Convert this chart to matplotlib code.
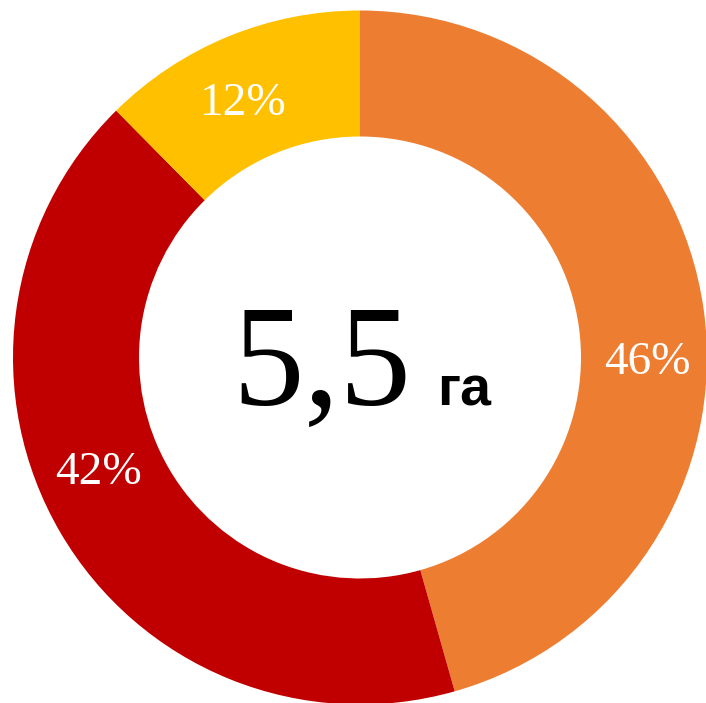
import matplotlib.pyplot as plt

# Shares of the 5.5 ha area (wedge sizes, labels as printed)
labels = ['46%', '42%', '12%']
shares = [45.6, 42.0, 12.4]
colors = ['#ED7D31', '#C00000', '#FFC000']
total_text = '5,5'
unit_text = 'га'

fig = plt.figure(figsize=(7.06, 7.03), dpi=100)
ax = fig.add_axes([0, 0, 1, 1])

H = 703
cx, cy, r = 360, H - 357.5, 347
wedges, _ = ax.pie(shares, colors=colors, startangle=90, counterclock=False,
                   center=(cx, cy), radius=r,
                   wedgeprops=dict(width=126, linewidth=0))

# label positions (pixel layout)
label_pos = [(647, H - 363), (99, H - 473), (243, H - 104)]
for lab, (x, y) in zip(labels, label_pos):
    ax.text(x, y, lab, color='white', fontsize=34, family='Liberation Serif',
            ha='center', va='center')

ax.text(232, H - 405, total_text, fontsize=103, family='Liberation Serif',
        ha='left', va='baseline', color='black')
ax.text(437, H - 405, unit_text, fontsize=40, family='Liberation Sans',
        fontweight='bold', ha='left', va='baseline', color='black')

ax.set_xlim(0, 706)
ax.set_ylim(0, H)
ax.set_aspect('equal')
ax.axis('off')

plt.savefig('out.png', dpi=100)
